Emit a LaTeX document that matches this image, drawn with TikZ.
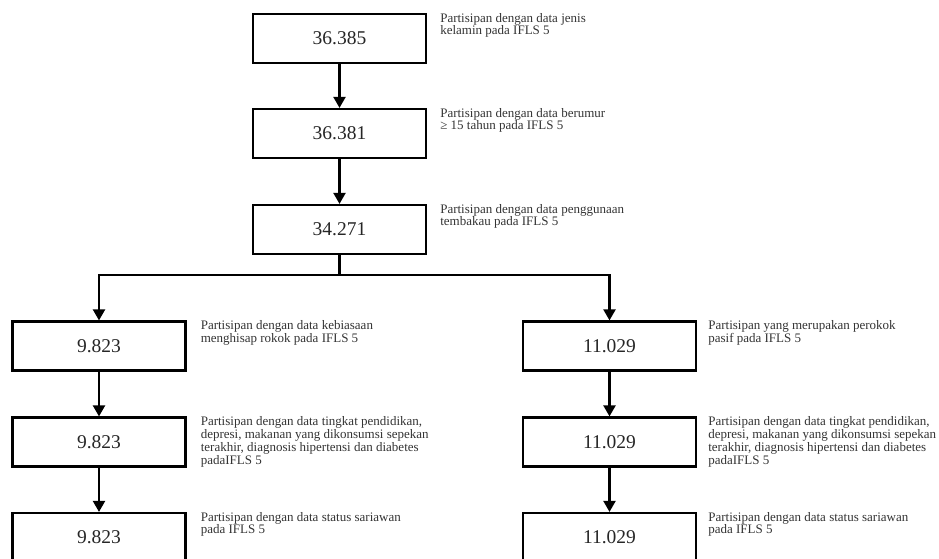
\documentclass[tikz,border=0pt]{standalone}
\usepackage{fontspec}
\setmainfont{Liberation Serif}
\usetikzlibrary{arrows.meta,positioning}

\begin{document}
\begin{tikzpicture}[x=1pt,y=-1pt,
        box/.style={draw,line width=2.2pt,minimum width=173pt,minimum height=49pt,inner sep=0pt,
            font=\fontsize{19.5}{20}\selectfont,text=black!85},
        note/.style={align=left,inner sep=0pt,font=\fontsize{13}{12.8}\selectfont,text=black!80},
        link/.style={line width=2.2pt},
        arr/.style={line width=2.2pt,-{Triangle[width=12pt,length=11pt]}}]
        \useasboundingbox (0,0) rectangle (939,559);
        \clip (0,0) rectangle (939,559);
        %% main column
        \node[box] (b1) at (339.5,38.5) {36.385};
        \node[box] (b2) at (339.5,133.5) {36.381};
        \node[box] (b3) at (339.5,229.5) {34.271};
        %% left column
        \node[box] (l1) at (99,346) {9.823};
        \node[box] (l2) at (99,442) {9.823};
        \node[box] (l3) at (99,537.5) {9.823};
        %% right column
        \node[box] (r1) at (609.5,346) {11.029};
        \node[box] (r2) at (609.5,442) {11.029};
        \node[box] (r3) at (609.5,537.5) {11.029};
        %% notes
        \node[note,right=13pt of b1.north east,anchor=north west] (nb1) {Partisipan dengan data jenis\\kelamin pada IFLS 5};
        \node[note,right=13pt of b2.north east,anchor=north west] (nb2) {Partisipan dengan data berumur\\≥ 15 tahun pada IFLS 5};
        \node[note,right=13pt of b3.north east,anchor=north west] (nb3) {Partisipan dengan data penggunaan\\tembakau pada IFLS 5};
        \node[note,right=14pt of l1.north east,anchor=north west] (nl1) {Partisipan dengan data kebiasaan\\menghisap rokok pada IFLS 5};
        \node[note,right=14pt of l2.north east,anchor=north west] (nl2) {Partisipan dengan data tingkat pendidikan,\\depresi, makanan yang dikonsumsi sepekan\\terakhir, diagnosis hipertensi dan diabetes\\padaIFLS 5};
        \node[note,right=14pt of l3.north east,anchor=north west] (nl3) {Partisipan dengan data status sariawan\\pada IFLS 5};
        \node[note,right=11pt of r1.north east,anchor=north west] (nr1) {Partisipan yang merupakan perokok\\pasif pada IFLS 5};
        \node[note,right=11pt of r2.north east,anchor=north west] (nr2) {Partisipan dengan data tingkat pendidikan,\\depresi, makanan yang dikonsumsi sepekan\\terakhir, diagnosis hipertensi dan diabetes\\padaIFLS 5};
        \node[note,right=11pt of r3.north east,anchor=north west] (nr3) {Partisipan dengan data status sariawan\\pada IFLS 5};
        %% arrows
        \draw[arr] (b1) -- (b2);
        \draw[arr] (b2) -- (b3);
        \draw[link] (b3.south) -- ++(0,20) coordinate (split);
        \draw[arr] (split) -| (l1.north);
        \draw[arr] (split) -| (r1.north);
        \draw[arr] (l1) -- (l2);
        \draw[arr] (l2) -- (l3);
        \draw[arr] (r1) -- (r2);
        \draw[arr] (r2) -- (r3);
    \end{tikzpicture}
\end{document}
